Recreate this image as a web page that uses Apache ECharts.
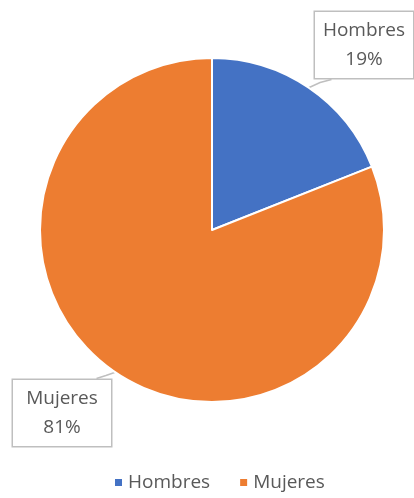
<!DOCTYPE html>
<html>
<head>
<meta charset="utf-8">
<script src="https://cdn.jsdelivr.net/npm/echarts@6/dist/echarts.min.js"></script>
<style>
  html, body { margin: 0; padding: 0; background: #fff; }
  #chart { width: 414px; height: 498px; }
</style>
</head>
<body>
<div id="chart"></div>
<script>
// datos del gráfico
var categories = ['Hombres', 'Mujeres'];
var values = [19, 81];
var colors = ['#4472C4', '#ED7D31'];

// posiciones de las etiquetas (cajas)
var labelPos = [[364, 45], [62, 413]];

var chart = echarts.init(document.getElementById('chart'));

var data = [];
for (var i = 0; i < categories.length; i++) {
    data.push({ name: categories[i], value: values[i], itemStyle: { color: colors[i] } });
}

var option = {
    animation: false,
    legend: {
        bottom: 1,
        left: 108,
        icon: 'rect',
        itemWidth: 9,
        itemHeight: 9,
        itemGap: 28,
        textStyle: { color: '#595959', fontSize: 19, fontFamily: 'Open Sans' },
        data: categories
    },
    series: [{
        type: 'pie',
        center: [212, 230],
        radius: [0, 172],
        startAngle: 90,
        clockwise: true,
        itemStyle: { borderColor: '#fff', borderWidth: 2 },
        label: {
            show: true,
            position: 'outside',
            formatter: '{b}\n{d}%',
            color: '#595959',
            fontSize: 19,
            fontFamily: 'Open Sans',
            lineHeight: 29,
            align: 'center',
            width: 88,
            overflow: 'none',
            backgroundColor: '#fff',
            borderColor: '#bfbfbf',
            borderWidth: 1.5,
            padding: [4, 5, 4, 5]
        },
        labelLine: {
            show: true,
            length: 8,
            length2: 8,
            lineStyle: { color: '#bfbfbf', width: 1.5 }
        },
        labelLayout: function (params) {
            var p = labelPos[params.dataIndex];
            var w = params.labelRect.width, h = params.labelRect.height;
            var start = params.labelLinePoints ? params.labelLinePoints[0] : null;
            var res = { x: p[0], y: p[1], align: 'center', verticalAlign: 'middle' };
            if (start) {
                // la línea va del borde del sector al borde de la caja más cercano
                var end = start[1] < p[1]
                    ? [p[0] + w / 2 - 16, p[1] - h / 2]
                    : [p[0] - w / 2 + 18, p[1] + h / 2];
                res.labelLinePoints = [start, [(start[0] + end[0]) / 2, end[1] + (start[1] < p[1] ? -3 : 3)], end];
            }
            return res;
        },
        data: data
    }]
};

chart.setOption(option);
</script>
</body>
</html>
